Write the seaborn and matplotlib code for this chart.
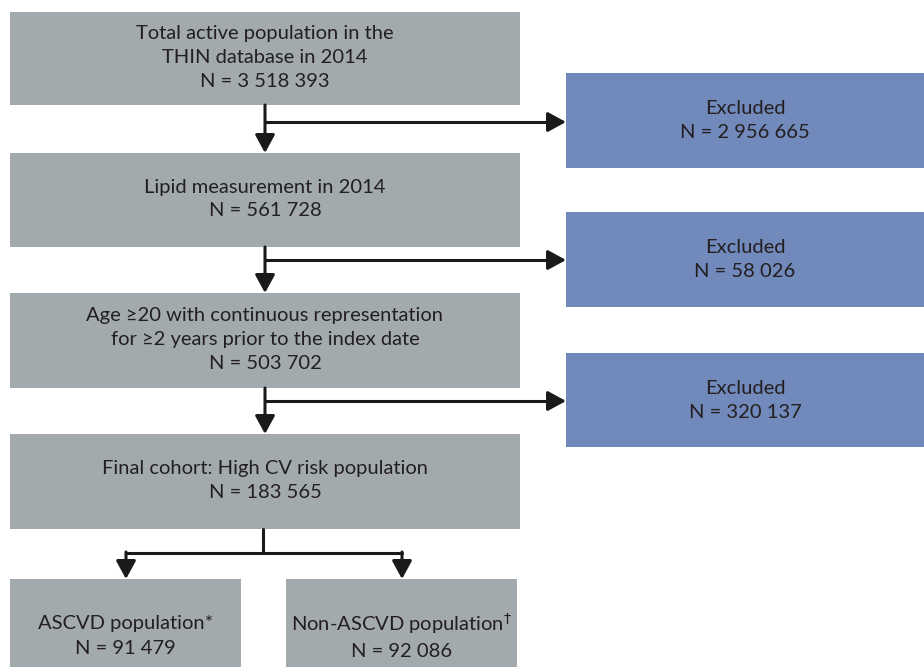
import matplotlib
matplotlib.use("Agg")
import matplotlib.pyplot as plt
import seaborn as sns

# flowchart content
stage_labels = [
    "Total active population in the\nTHIN database in 2014",
    "Lipid measurement in 2014",
    "Age \u226520 with continuous representation\nfor \u22652 years prior to the index date",
    "Final cohort: High CV risk population",
]
stage_counts = [3518393, 561728, 503702, 183565]
excluded_counts = [2956665, 58026, 320137]
group_labels = ["ASCVD population*", "Non-ASCVD population$^{\\dagger}$"]
group_counts = [91479, 92086]

# layout (pixels, y grows downward)
stage_top = [12, 153, 293, 434]
stage_bottom = [105, 247, 388, 529]
main_left, main_right = 10, 520
excl_top = [73, 212, 353]
excl_bottom = [168, 307, 447]
excl_left, excl_right = 566, 930
branch_y = [122, 260, 401]
stem_x = 265
group_left = [10, 286]
group_right = [241, 517]
group_top, group_bottom = 579, 692
group_text_y = 636
split_y = 553

gray = "#a3aaad"
blue = "#7189bb"
ink = "#231f20"


def fmt(n):
    return "N = " + f"{n:,}".replace(",", " ")


sns.set_theme(style="white")
plt.rcParams["font.family"] = ["Lato", "DejaVu Sans"]

fig = plt.figure(figsize=(9.24, 6.67), dpi=100)
ax = fig.add_axes([0, 0, 1, 1])
ax.set_xlim(0, 924)
ax.set_ylim(667, 0)
ax.axis("off")

fs = 14.5
ls = 1.5


def box(l, r, t, b, color):
    ax.barh((t + b) / 2, r - l, height=b - t, left=l, color=color, edgecolor="none", zorder=1)


def arrow(x0, y0, x1, y1):
    ax.annotate("", xy=(x1, y1), xytext=(x0, y0),
                arrowprops=dict(arrowstyle="-|>,head_length=0.55,head_width=0.3",
                                color="#1a1a1a", lw=2.2, shrinkA=0, shrinkB=0,
                                mutation_scale=20), zorder=3)


# main stages
for i, (lab, n) in enumerate(zip(stage_labels, stage_counts)):
    box(main_left, main_right, stage_top[i], stage_bottom[i], gray)
    ax.text((main_left + main_right) / 2, (stage_top[i] + stage_bottom[i]) / 2 - 1,
            lab + "\n" + fmt(n), ha="center", va="center", fontsize=fs,
            color=ink, linespacing=ls, zorder=4)

# exclusions
for i, n in enumerate(excluded_counts):
    box(excl_left, excl_right, excl_top[i], excl_bottom[i], blue)
    ax.text((excl_left + 924) / 2, (excl_top[i] + excl_bottom[i]) / 2,
            "Excluded\n" + fmt(n), ha="center", va="center", fontsize=fs,
            color=ink, linespacing=ls, zorder=4)
    arrow(stem_x, stage_bottom[i], stem_x, stage_top[i + 1])
    ax.plot([stem_x, excl_left - 12], [branch_y[i], branch_y[i]], color="#1a1a1a", lw=2.2, zorder=3,
            solid_capstyle="butt")
    arrow(excl_left - 16, branch_y[i], excl_left, branch_y[i])

# split into groups
centers = [126, 402]
ax.plot([stem_x - 2, stem_x - 2], [stage_bottom[3], split_y], color="#1a1a1a", lw=2.2, zorder=3)
ax.plot([centers[0], centers[1]], [split_y, split_y], color="#1a1a1a", lw=2.2, zorder=3)
for i, (lab, n) in enumerate(zip(group_labels, group_counts)):
    box(group_left[i], group_right[i], group_top, group_bottom, gray)
    arrow(centers[i], split_y - 1, centers[i], group_top)
    ax.text((group_left[i] + group_right[i]) / 2, group_text_y, lab + "\n" + fmt(n),
            ha="center", va="center", fontsize=fs, color=ink, linespacing=ls, zorder=4)

fig.savefig("out.png", dpi=100)
